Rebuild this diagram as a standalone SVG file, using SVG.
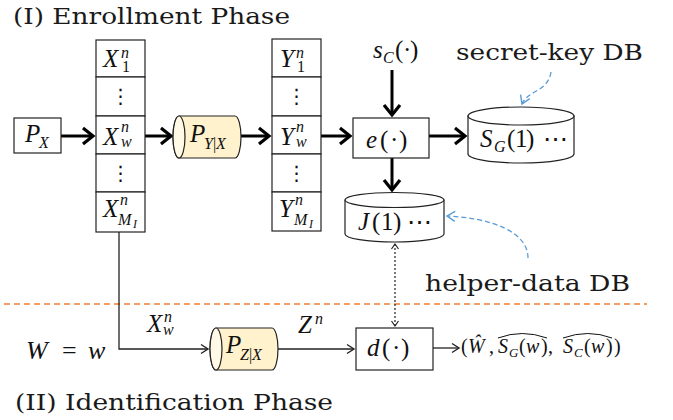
<svg xmlns="http://www.w3.org/2000/svg" width="673" height="420" viewBox="0 0 673 420">
<style>
.t{font-family:"DejaVu Serif","Liberation Serif",serif;font-size:23px;fill:#1a1a1a}
.m{font-family:"Liberation Serif",serif;font-style:italic;font-size:25px;fill:#111}
.u{font-style:normal}
.s{font-size:16px}
.ss{font-size:12px}
.dots{font-family:"DejaVu Sans",sans-serif;font-size:20px;fill:#111}
.box{fill:#fff;stroke:#222;stroke-width:1.2}
.cyl{fill:#fff2cc;stroke:#222;stroke-width:1.2}
.cap{fill:#fff9e6;stroke:#222;stroke-width:1.2}
.db{fill:#fff;stroke:#222;stroke-width:1.2}
.thick{stroke:#000;stroke-width:3;fill:none;marker-end:url(#ah)}
.thin{stroke:#222;stroke-width:1.3;fill:none}
.blue{stroke:#5b9bd5;stroke-width:1.3;fill:none;stroke-dasharray:5 3;marker-end:url(#bh)}
</style>
<defs>
<marker id="ah" markerUnits="userSpaceOnUse" markerWidth="20" markerHeight="20" viewBox="-14 -10 16 20" refX="0" refY="0" orient="auto"><path d="M-10,-8 L0,0 L-10,8" fill="none" stroke="#000" stroke-width="3.2"/></marker>
<marker id="th" markerUnits="userSpaceOnUse" markerWidth="14" markerHeight="14" viewBox="-10 -7 12 14" refX="0" refY="0" orient="auto"><path d="M-7,-4.5 L0,0 L-7,4.5" fill="none" stroke="#222" stroke-width="1.4"/></marker>
<marker id="dh" markerUnits="userSpaceOnUse" markerWidth="12" markerHeight="12" viewBox="-8 -6 10 12" refX="0" refY="0" orient="auto-start-reverse"><path d="M-5,-3.5 L0,0 L-5,3.5" fill="none" stroke="#222" stroke-width="1.2"/></marker>
<marker id="bh" markerUnits="userSpaceOnUse" markerWidth="14" markerHeight="14" viewBox="-10 -7 12 14" refX="0" refY="0" orient="auto"><path d="M-8,-5 L0,0 L-8,5" fill="none" stroke="#5b9bd5" stroke-width="1.4"/></marker>
</defs>
<rect width="673" height="420" fill="#fff"/>

<text class="t" x="13" y="24" textLength="277" lengthAdjust="spacingAndGlyphs">(I) Enrollment Phase</text>
<text class="t" x="15" y="410" textLength="318" lengthAdjust="spacingAndGlyphs">(II) Identification Phase</text>

<g id="connectors">
<line x1="4" y1="304" x2="647" y2="304" stroke="#ed7d31" stroke-width="1.3" stroke-dasharray="6 4"/>
<path class="thick" d="M61,136 H93"/>
<path class="thick" d="M145,136 H171"/>
<path class="thick" d="M241,136 H269"/>
<path class="thick" d="M321,136 H350"/>
<path class="thick" d="M429,136 H465"/>
<path class="thick" d="M392,70 V115"/>
<path class="thick" d="M392,158 V190"/>
<path class="thin" d="M119,232 V349 H208" marker-end="url(#th)"/>
<path class="thin" d="M278,349 H354" marker-end="url(#th)"/>
<path class="thin" d="M433,348 H459" marker-end="url(#th)"/>
<path d="M395,244 V326" stroke="#222" stroke-width="1.2" stroke-dasharray="2 2" fill="none" marker-start="url(#dh)" marker-end="url(#dh)"/>
<path class="blue" d="M551,72 C548,92 528,90 522,104"/>
<path class="blue" d="M528,258 C528,232 492,218 447,216"/>
</g>

<g id="PX">
<rect class="box" x="14" y="118" width="47" height="35"/>
<text class="m" x="25" y="142">P</text>
<text class="m s" x="39" y="148">X</text>
</g>

<g id="Xcol">
<rect class="box" x="96" y="40" width="49" height="37"/>
<rect class="box" x="96" y="77" width="49" height="39"/>
<rect class="box" x="96" y="116" width="49" height="38"/>
<rect class="box" x="96" y="154" width="49" height="38"/>
<rect class="box" x="96" y="192" width="49" height="40"/>
<text class="m" x="103" y="67">X</text><text class="m s" x="121" y="58">n</text><text class="m s u" x="122" y="72">1</text>
<text class="dots" x="120.5" y="103" text-anchor="middle">⋮</text>
<text class="m" x="103" y="145">X</text><text class="m s" x="121" y="132">n</text><text class="m s" x="121" y="147">w</text>
<text class="dots" x="120.5" y="180" text-anchor="middle">⋮</text>
<text class="m" x="103" y="217">X</text><text class="m s" x="120" y="205">n</text><text class="m s" x="118" y="225">M</text><text class="m ss" x="133" y="228">I</text>
</g>

<g id="PYX">
<path class="cyl" d="M179,116 L235,116 A6,21 0 0 1 235,158 L179,158 A6,21 0 0 1 179,116 Z"/>
<ellipse class="cap" cx="179" cy="137" rx="6" ry="21"/>
<text class="m" x="190" y="142">P</text>
<text class="m s" x="204" y="149">Y<tspan class="u">|</tspan>X</text>
</g>

<g id="Ycol">
<rect class="box" x="272" y="39" width="49" height="38"/>
<rect class="box" x="272" y="77" width="49" height="39"/>
<rect class="box" x="272" y="116" width="49" height="38"/>
<rect class="box" x="272" y="154" width="49" height="38"/>
<rect class="box" x="272" y="192" width="49" height="39"/>
<text class="m" x="280" y="67">Y</text><text class="m s" x="296" y="58">n</text><text class="m s u" x="297" y="72">1</text>
<text class="dots" x="296.5" y="103" text-anchor="middle">⋮</text>
<text class="m" x="280" y="145">Y</text><text class="m s" x="296" y="132">n</text><text class="m s" x="296" y="147">w</text>
<text class="dots" x="296.5" y="180" text-anchor="middle">⋮</text>
<text class="m" x="279" y="217">Y</text><text class="m s" x="295" y="205">n</text><text class="m s" x="294" y="225">M</text><text class="m ss" x="309" y="228">I</text>
</g>

<g id="sc">
<text class="m" x="373" y="58">s</text><text class="m s" x="383" y="63">C</text><text class="m u" y="58"><tspan x="395">(</tspan><tspan x="403">·</tspan><tspan x="410">)</tspan></text>
</g>

<g id="e">
<rect class="box" x="353" y="118" width="76" height="40"/>
<text class="m" y="148"><tspan x="366">e</tspan><tspan class="u" x="380">(</tspan><tspan class="u" x="390">·</tspan><tspan class="u" x="399">)</tspan></text>
</g>

<g id="SG">
<path class="db" d="M468,116 L468,154 A53,9 0 0 0 574,154 L574,116 Z"/>
<ellipse class="db" cx="521" cy="116" rx="53" ry="9"/>
<text class="m" x="480" y="147">S</text><text class="m s" x="494" y="152">G</text><text class="m u" y="147"><tspan x="507">(</tspan><tspan x="515">1</tspan><tspan x="526">)</tspan></text><text class="m u" x="543" y="147">⋯</text>
</g>
<text id="skdb" class="t" x="456" y="60" textLength="187" lengthAdjust="spacingAndGlyphs">secret-key DB</text>

<g id="J">
<path class="db" d="M345,200 L345,234 A49.5,8 0 0 0 444,234 L444,200 Z"/>
<ellipse class="db" cx="394.5" cy="200" rx="49.5" ry="7.5"/>
<text class="m" y="230"><tspan x="358">J</tspan><tspan class="u" x="372">(</tspan><tspan class="u" x="381">1</tspan><tspan class="u" x="393">)</tspan></text><text class="m u" x="407" y="230">⋯</text>
</g>
<text id="hddb" class="t" x="425" y="291" textLength="205" lengthAdjust="spacingAndGlyphs">helper-data DB</text>

<g id="Ww">
<text class="m" y="359" style="font-size:26px"><tspan x="26">W</tspan><tspan class="u" x="62">=</tspan><tspan x="88">w</tspan></text>
</g>
<g id="Xwlabel">
<text class="m" x="147" y="332">X</text><text class="m s" x="164" y="322">n</text><text class="m s" x="163" y="335">w</text>
</g>

<g id="PZX">
<path class="cyl" d="M216,328 L272,328 A6,21 0 0 1 272,370 L216,370 A6,21 0 0 1 216,328 Z"/>
<ellipse class="cap" cx="216" cy="349" rx="6" ry="21"/>
<text class="m" x="226" y="353">P</text>
<text class="m s" x="240" y="360">Z<tspan class="u">|</tspan>X</text>
</g>
<g id="Zn">
<text class="m" x="298" y="333">Z</text><text class="m s" x="315" y="324">n</text>
</g>

<g id="d">
<rect class="box" x="356" y="328" width="77" height="42"/>
<text class="m" y="356"><tspan x="367">d</tspan><tspan class="u" x="382">(</tspan><tspan class="u" x="392">·</tspan><tspan class="u" x="401">)</tspan></text>
</g>

<g id="output">
<text class="m" style="font-size:20px" y="353"><tspan class="u" x="461">(</tspan><tspan x="468">Ŵ</tspan><tspan class="u" x="489">,</tspan><tspan x="498">S</tspan><tspan x="509" dy="4" style="font-size:13px">G</tspan><tspan class="u" x="519" dy="-4">(</tspan><tspan x="526">w</tspan><tspan class="u" x="541">)</tspan><tspan class="u" x="548">,</tspan><tspan x="563">S</tspan><tspan x="574" dy="4" style="font-size:13px">C</tspan><tspan class="u" x="584" dy="-4">(</tspan><tspan x="591">w</tspan><tspan class="u" x="606">)</tspan><tspan class="u" x="614">)</tspan></text>
<path d="M498,338 Q522,329 547,338" fill="none" stroke="#111" stroke-width="1"/>
<path d="M563,338 Q588,329 612,338" fill="none" stroke="#111" stroke-width="1"/>
</g>
</svg>
